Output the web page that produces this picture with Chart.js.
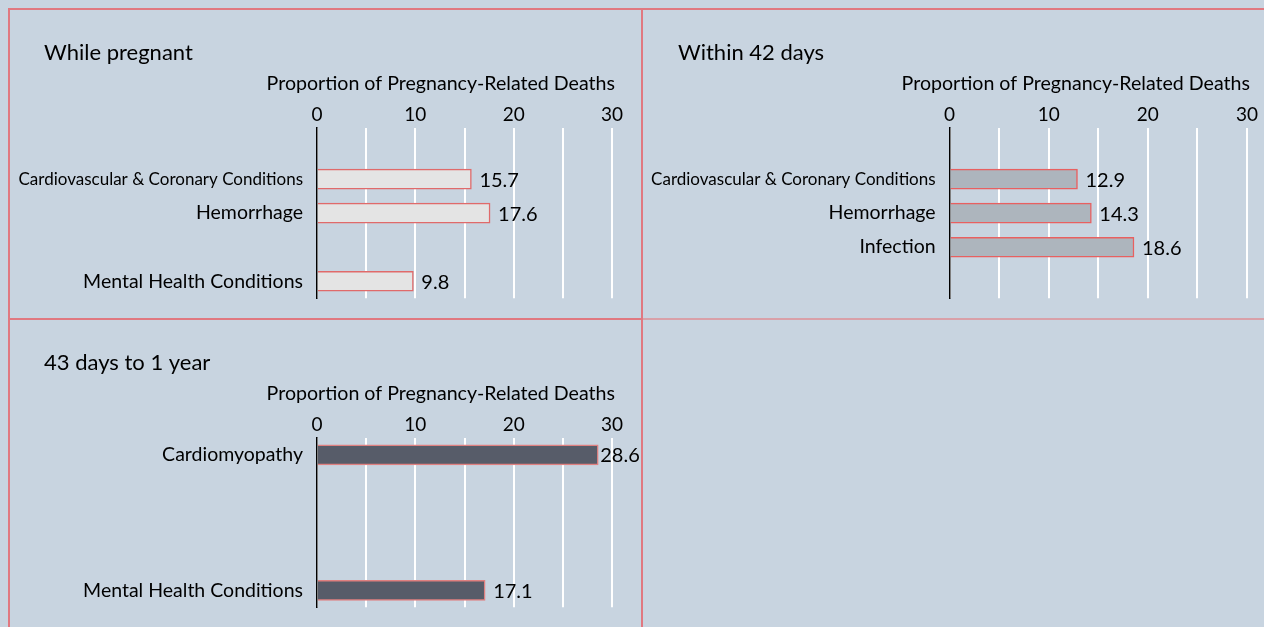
<!DOCTYPE html>
<html>
  <head>
    <title>Pregnancy-Related Deaths</title>
    <script src="https://cdn.jsdelivr.net/npm/chart.js"></script>
    <style>
      body { margin: 0; background: #c8d4e0; width: 1264px; height: 627px; overflow: hidden; position: relative; font-family: Lato, sans-serif; }
      .line { position: absolute; background: #e07880; }
      .box { position: absolute; }
    </style>
  </head>
  <body>
    <div class="line" style="left:8px;top:8px;width:1256px;height:2px"></div>
    <div class="line" style="left:8px;top:8px;width:2px;height:627px"></div>
    <div class="line" style="left:641px;top:8px;width:2px;height:627px"></div>
    <div class="line" style="left:8px;top:318px;width:634px;height:2px"></div>
    <div class="line" style="left:643px;top:318px;width:621px;height:2px;background:#d9a0a8"></div>

    <div class="box" style="left:10px;top:10px;width:631px;height:314px"><canvas id="c1"></canvas></div>
    <div class="box" style="left:643px;top:10px;width:621px;height:314px"><canvas id="c2"></canvas></div>
    <div class="box" style="left:10px;top:320px;width:631px;height:313px"><canvas id="c3"></canvas></div>

    <script>
// data
const tickLabels = [0, 10, 20, 30];
const axisTitle = 'Proportion of Pregnancy-Related Deaths';

const titlePregnant = 'While pregnant';
const catsPregnant = ['', 'Cardiovascular & Coronary Conditions', 'Hemorrhage', '', 'Mental Health Conditions'];
const valsPregnant = [null, 15.7, 17.6, null, 9.8];

const title42 = 'Within 42 days';
const cats42 = ['', 'Cardiovascular & Coronary Conditions', 'Hemorrhage', 'Infection', ''];
const vals42 = [null, 12.9, 14.3, 18.6, null];

const titleYear = '43 days to 1 year';
const catsYear = ['Cardiomyopathy', '', '', '', 'Mental Health Conditions'];
const valsYear = [28.6, null, null, null, 17.1];

const FONT = 'Lato';

// value labels to the right of each bar, pulled in if they would run off the canvas
const valueLabels = {
  id: 'valueLabels',
  afterDatasetsDraw(chart) {
    const ctx = chart.ctx;
    const ds = chart.data.datasets[0];
    const meta = chart.getDatasetMeta(0);
    ctx.save();
    ctx.font = '20px ' + FONT;
    ctx.fillStyle = '#000';
    ctx.textBaseline = 'middle';
    ctx.textAlign = 'left';
    meta.data.forEach((bar, i) => {
      const v = ds.data[i];
      if (v == null) return;
      const txt = v.toFixed(1);
      const w = ctx.measureText(txt).width;
      const gap = Math.max(2, Math.min(8, chart.width - w - bar.x - 2));
      ctx.fillText(txt, bar.x + gap, bar.y + 1);
    });
    ctx.restore();
  }
};

// panel title (left) and axis title (right-aligned to the axis end, may run past the axis start)
const panelText = {
  id: 'panelText',
  afterDraw(chart, args, opts) {
    const { ctx, chartArea } = chart;
    ctx.save();
    ctx.fillStyle = '#000';
    ctx.textBaseline = 'middle';
    ctx.font = '22px ' + FONT;
    ctx.textAlign = 'left';
    ctx.fillText(opts.title, opts.titleX, chartArea.top - 75);
    ctx.font = '19.6px ' + FONT;
    ctx.textAlign = 'right';
    ctx.fillText(axisTitle, chartArea.right + 3, chartArea.top - 44);
    ctx.restore();
  }
};

function makeChart(id, title, cats, vals, fill, stroke, g) {
  return new Chart(document.getElementById(id), {
    type: 'bar',
    data: {
      labels: cats,
      datasets: [{
        data: vals,
        backgroundColor: fill,
        borderColor: stroke,
        borderWidth: 1.5,
        barThickness: 20
      }]
    },
    plugins: [valueLabels, panelText],
    options: {
      indexAxis: 'y',
      responsive: true,
      maintainAspectRatio: false,
      animation: false,
      layout: { padding: { left: 0, right: g.right, top: 88, bottom: 14 } },
      plugins: {
        legend: { display: false },
        tooltip: { enabled: false },
        title: { display: false },
        panelText: { title: title, titleX: g.titleX }
      },
      scales: {
        x: {
          position: 'top',
          min: 0,
          max: 30,
          afterFit(s) { s.height = 30; },
          ticks: {
            stepSize: 5,
            padding: 2,
            color: '#000',
            font: { family: FONT, size: 19 },
            callback: v => tickLabels.includes(v) ? v : ''
          },
          grid: { color: '#fff', lineWidth: 2, drawTicks: false },
          border: { display: false }
        },
        y: {
          afterFit(s) { s.width = g.yWidth; },
          ticks: {
            padding: 14,
            color: '#000',
            font: c => ({ family: FONT, size: (c.tick && c.tick.label && c.tick.label.length > 30) ? 17 : 19.5 })
          },
          grid: { display: false, drawTicks: false },
          border: { color: '#000', width: 1.5 }
        }
      }
    }
  });
}

makeChart('c1', titlePregnant, catsPregnant, valsPregnant, '#e4e4e4', '#e06a6a', { titleX: 34, right: 29, yWidth: 307 });
makeChart('c2', title42, cats42, vals42, '#adb5bd', '#e86060', { titleX: 35, right: 17, yWidth: 306.6 });
makeChart('c3', titleYear, catsYear, valsYear, '#575c69', '#e08080', { titleX: 34, right: 29, yWidth: 307 });
    </script>
  </body>
</html>
